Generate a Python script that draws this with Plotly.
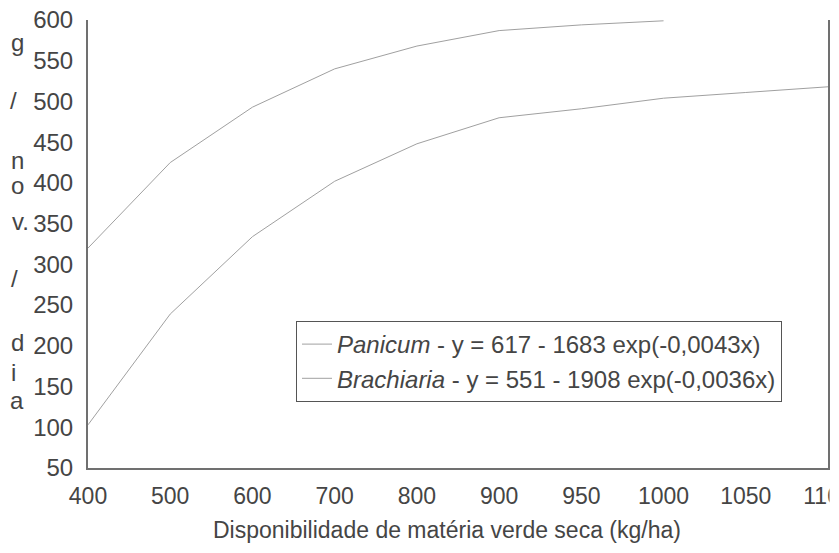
import plotly.graph_objects as go

x_labels = ["400", "500", "600", "700", "800", "900", "950", "1000", "1050", "1100"]
panicum = [320, 425, 493, 540, 568, 587, 594, 599]
brachiaria = [103, 239, 334, 402, 448, 480, 491, 504, 511, 518]
y_ticks = [50, 100, 150, 200, 250, 300, 350, 400, 450, 500, 550, 600]
ylabel_chars = ["g", "/", "n", "o", "v.", "/", "d", "i", "a"]
ylabel_pos = [43, 100, 160, 185, 221, 278, 342, 372, 400]
ylabel_x = [17, 13, 17, 17, 20, 14, 17, 13, 17]
x_title = "Disponibilidade de matéria verde seca (kg/ha)"

FONT = "Liberation Sans, Arial, sans-serif"
TXT = "#454545"
LINE = "#a0a0a0"

PX0, PX1, PY0, PY1 = 88, 828, 20, 468  # plot area in page pixels
W, H = 839, 553
L, R = PX0, W - PX1
T, B = PY0, H - PY1
pw, ph = PX1 - PX0, PY1 - PY0

fig = go.Figure()
fig.add_trace(go.Scatter(
    x=x_labels[:len(panicum)], y=panicum, mode="lines",
    line=dict(color=LINE, width=1),
    name="<i>Panicum</i> - y = 617 - 1683 exp(-0,0043x)"))
fig.add_trace(go.Scatter(
    x=x_labels, y=brachiaria, mode="lines",
    line=dict(color=LINE, width=1),
    name="<i>Brachiaria</i> - y = 551 - 1908 exp(-0,0036x)"))

annotations = []
for ch, py, px in zip(ylabel_chars, ylabel_pos, ylabel_x):
    annotations.append(dict(
        text=ch, xref="paper", yref="paper",
        x=(px - PX0) / pw, y=(PY1 - py) / ph,
        xanchor="center", yanchor="middle", showarrow=False,
        font=dict(family=FONT, size=24, color=TXT)))
annotations.append(dict(
    text=x_title, xref="paper", yref="paper",
    x=(447 - PX0) / pw, y=(PY1 - 530) / ph,
    xanchor="center", yanchor="middle", showarrow=False,
    font=dict(family=FONT, size=23, color=TXT)))

# the original picture is cropped just right of the frame: mask that strip
crop_mask = dict(
    type="rect", xref="paper", yref="paper", layer="above",
    x0=(PX1 + 1.5 - PX0) / pw, x1=(W + 5 - PX0) / pw,
    y0=(PY1 - 520) / ph, y1=(PY1 - 471) / ph,
    fillcolor="white", line=dict(width=0))

fig.update_layout(
    width=W, height=H,
    margin=dict(l=L, r=R, t=T, b=B, autoexpand=False),
    paper_bgcolor="white", plot_bgcolor="white",
    font=dict(family=FONT, size=22, color=TXT),
    showlegend=True,
    legend=dict(
        x=(296 - PX0) / pw, y=(PY1 - 321) / ph,
        xanchor="left", yanchor="top",
        bgcolor="white", bordercolor="#555555", borderwidth=1,
        font=dict(family=FONT, size=24, color=TXT),
        itemwidth=30, tracegroupgap=0),
    annotations=annotations,
    shapes=[crop_mask],
    xaxis=dict(
        type="category", categoryorder="array", categoryarray=x_labels,
        range=[0, len(x_labels) - 1],
        showline=True, linecolor="#707070", linewidth=2,
        showgrid=False, zeroline=False, ticks="",
        ticklabelstandoff=6,
        tickfont=dict(family=FONT, size=23, color=TXT),
        automargin=False),
    yaxis=dict(
        range=[50, 600], tickvals=y_ticks,
        showline=True, linecolor="#707070", linewidth=2, mirror=True,
        showgrid=False, zeroline=False, ticks="",
        ticklabelstandoff=8, ticklabeloverflow="allow",
        tickfont=dict(family=FONT, size=24, color=TXT),
        automargin=False),
)

fig.write_html("out.html", post_script="document.body.style.margin='0';",
               config={"displayModeBar": False})
